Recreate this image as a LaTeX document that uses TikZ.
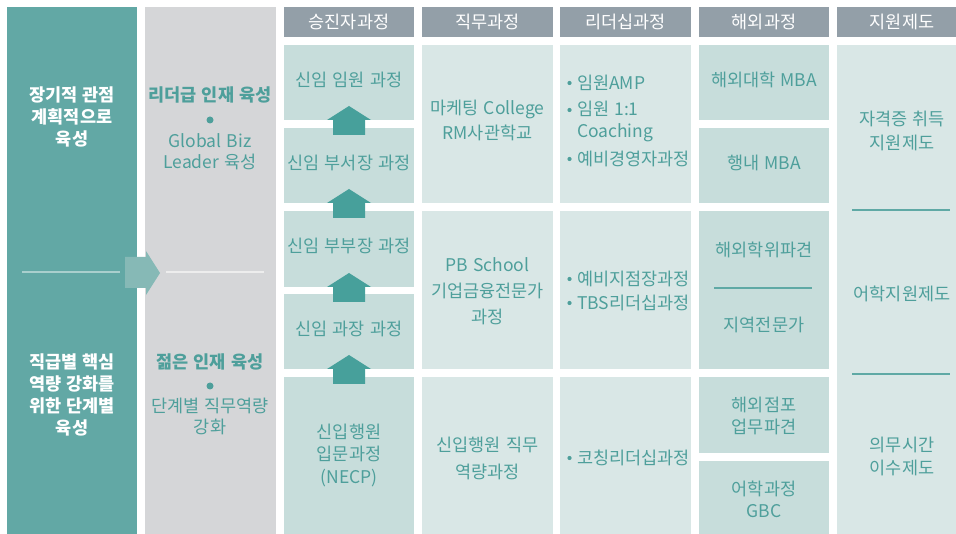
\documentclass[tikz,border=0pt]{standalone}
\usepackage{fontspec}
\setmainfont{Noto Sans CJK KR}[WordSpace=1.3]
\definecolor{colA}{HTML}{62A8A5}
\definecolor{colB}{HTML}{D5D6D8}
\definecolor{hdrc}{HTML}{939FA8}
\definecolor{celld}{HTML}{C7DDDB}
\definecolor{celll}{HTML}{D9E7E6}
\definecolor{arrc}{HTML}{47A09B}
\definecolor{chevc}{HTML}{86B9B6}
\definecolor{tc}{HTML}{4E9F9B}
\definecolor{lnc}{HTML}{5FA9A5}
\definecolor{ln1}{HTML}{A9CFCD}
\newcommand\mkcell[6]{\node[fill=#2, anchor=north west, minimum width={#5-#3}, minimum height={#6-#4}] (#1) at (#3,#4) {};}
\begin{document}
\begin{tikzpicture}[x=1pt,y=-1pt,
  every node/.style={inner sep=0pt,outer sep=0pt},
  lbl/.style={text=tc, font=\fontsize{17.5}{#1}\selectfont, align=center},
  lbl/.default=24,
  lbll/.style={text=tc, font=\fontsize{17.5}{#1}\selectfont, align=left, anchor=west},
  lbll/.default=22,
  wlbl/.style={text=white, font=\fontsize{17.5}{22}\selectfont\bfseries, align=center},
  blbl/.style={text=tc, font=\fontsize{17.5}{22}\selectfont\bfseries, align=center},
  hdr/.style={fill=hdrc, text=white, font=\fontsize{17.5}{20}\selectfont, minimum height=30, minimum width=#1},
  hdr/.default=130,
  divl/.style={line width=1.5pt},
  sepl/.style={draw=lnc, line width=1.2pt},
  bul/.style={fill=tc},
  uparr/.pic={\fill[arrc] (-16,15)--(-16,0)--(-22,0)--(0,-14)--(22,0)--(16,0)--(16,15)--cycle;}
]
\useasboundingbox (0,0) rectangle (956,534);
\fill[white] (0,0) rectangle (956,534);

% left columns
\mkcell{colone}{colA}{7}{7}{137}{540}
\mkcell{coltwo}{colB}{145}{7}{276}{540}
\draw[divl, draw=ln1] (22,272) -- (120,272);
\draw[divl, draw=white!93!black] (166,272) -- (264,272);
\fill[chevc] (125,257) -- (146,257) -- (146,251) -- (160,273) -- (146,295) -- (146,288) -- (125,288) -- cycle;

\node[wlbl] (lt) at (72,117) {장기적 관점\\계획적으로\\육성};
\node[wlbl] (lb) at (72,395) {직급별 핵심\\역량 강화를\\위한 단계별\\육성};

\node[blbl] (mt) at (210,95) {리더급 인재 육성};
\fill[tc] (210,120) circle (3.5);
\node[lbl=21] (mt2) at (210,151.5) {Global Biz\\Leader 육성};
\node[blbl] (mb) at (210,362) {젊은 인재 육성};
\fill[tc] (210,386) circle (3.5);
\node[lbl=21] (mb2) at (210,416.5) {단계별 직무역량\\강화};

% headers
\node[hdr] (h3) at (349,22) {승진자과정};
\node[hdr=131] (h4) at (487.5,22) {직무과정};
\node[hdr=131] (h5) at (625.5,22) {리더십과정};
\node[hdr] (h6) at (764,22) {해외과정};
\node[hdr] (h7) at (902,22) {지원제도};

% column 3
\mkcell{c31}{celld}{284}{45}{414}{120}
\mkcell{c32}{celld}{284}{128}{414}{203}
\mkcell{c33}{celld}{284}{211}{414}{287}
\mkcell{c34}{celld}{284}{294}{414}{369}
\mkcell{c35}{celld}{284}{377}{414}{540}
\pic at (c31.south) {uparr};
\pic at (c32.south) {uparr};
\pic at (c33.south) {uparr};
\pic at (c34.south) {uparr};
\node[lbl] (t31) at (349,80) {신임 임원 과정};
\node[lbl] (t32) at (349,163) {신임 부서장 과정};
\node[lbl] (t33) at (349,246) {신임 부부장 과정};
\node[lbl] (t34) at (349,329) {신임 과장 과정};
\node[lbl=22.5] (t35) at (349,455) {신입행원\\입문과정\\(NECP)};

% column 4
\mkcell{c41}{celll}{422}{45}{553}{203}
\mkcell{c42}{celll}{422}{211}{553}{369}
\mkcell{c43}{celll}{422}{377}{553}{540}
\node[lbl=25] (t41) at (487.5,120.5) {마케팅 College\\RM사관학교};
\node[lbl=26] (t42) at (487.5,291) {PB School\\기업금융전문가\\과정};
\node[lbl=26.5] (t43) at (487.5,458.5) {신입행원 직무\\역량과정};

% column 5
\mkcell{c51}{celll}{560}{45}{691}{203}
\mkcell{c52}{celll}{560}{211}{691}{369}
\mkcell{c53}{celll}{560}{377}{691}{540}
\fill[bul] (569.5,83) circle (2.1);
\node[lbll] (t51) at (577,83) {임원AMP};
\fill[bul] (569.5,110) circle (2.1);
\node[lbll=22] (t52) at (577,121) {임원 1:1\\Coaching};
\fill[bul] (569.5,159) circle (2.1);
\node[lbll] (t53) at (577,159) {예비경영자과정};
\fill[bul] (569.5,279) circle (2.1);
\node[lbll] (t54) at (577,279) {예비지점장과정};
\fill[bul] (569.5,303) circle (2.1);
\node[lbll] (t55) at (577,303) {TBS리더십과정};
\fill[bul] (569.5,458) circle (2.1);
\node[lbll] (t56) at (577,458) {코칭리더십과정};

% column 6
\mkcell{c61}{celld}{699}{45}{829}{120}
\mkcell{c62}{celld}{699}{128}{829}{203}
\mkcell{c63}{celld}{699}{211}{829}{369}
\mkcell{c64}{celld}{699}{377}{829}{453}
\mkcell{c65}{celld}{699}{461}{829}{540}
\node[lbl] (t61) at (764,80) {해외대학 MBA};
\node[lbl] (t62) at (764,163) {행내 MBA};
\node[lbl] (t63) at (764,250) {해외학위파견};
\draw[sepl] (714,288) -- (812,288);
\node[lbl] (t64) at (764,325) {지역전문가};
\node[lbl=22] (t65) at (764,416) {해외점포\\업무파견};
\node[lbl=22.5] (t66) at (764,499.5) {어학과정\\GBC};

% column 7
\mkcell{c71}{celll}{837}{45}{967}{540}
\node[lbl=24] (t71) at (902,131) {자격증 취득\\지원제도};
\draw[sepl] (852,210) -- (950,210);
\node[lbl] (t72) at (902,294) {어학지원제도};
\draw[sepl] (852,374) -- (950,374);
\node[lbl=23] (t73) at (902,456.5) {의무시간\\이수제도};
\end{tikzpicture}
\end{document}
